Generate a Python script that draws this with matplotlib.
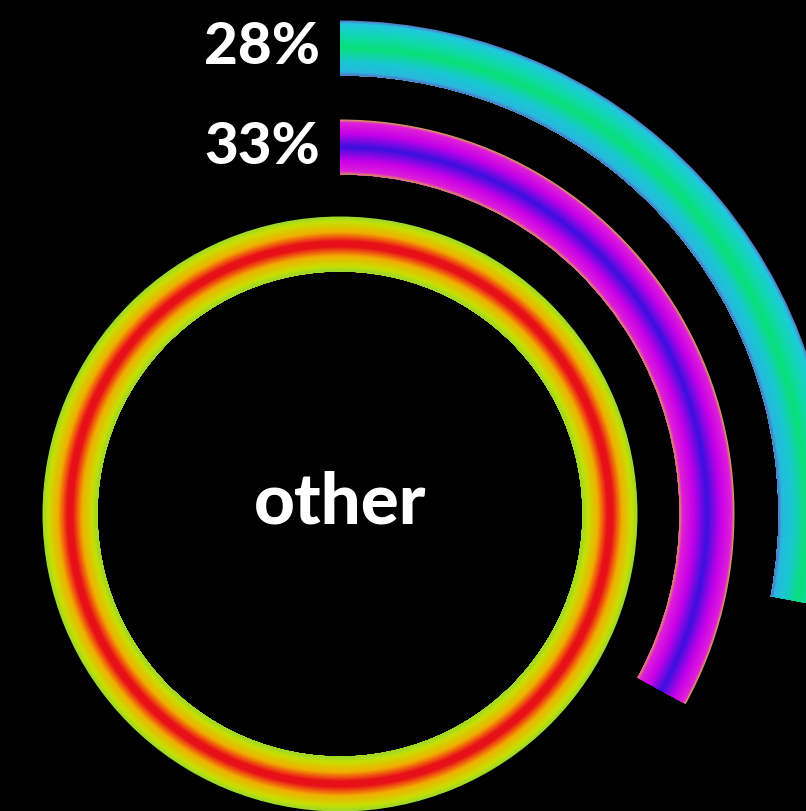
import numpy as np
import matplotlib
matplotlib.use("Agg")
import matplotlib.pyplot as plt
from matplotlib.colors import LinearSegmentedColormap

# rings from inside to outside
ring_labels = ["other", "33%", "28%"]
ring_values = [100, 33, 28]   # percent of a full turn

# colour profile across each ring's width (inner edge -> outer edge)
ring_gradients = [
    [(0, "#98d830"), (0.1, "#c8e000"), (0.28, "#f0b000"), (0.38, "#f05010"), (0.45, "#e81018"),
     (0.55, "#e81018"), (0.62, "#f05010"), (0.72, "#f0b000"), (0.9, "#c8e000"), (1, "#98d830")],
    [(0, "#d0a040"), (0.05, "#e020d8"), (0.25, "#c800e8"), (0.5, "#3a10e0"),
     (0.75, "#c800e8"), (0.95, "#e020d8"), (1, "#d8b048")],
    [(0, "#5a70c0"), (0.06, "#28b8e0"), (0.25, "#18c8d0"), (0.5, "#08e078"),
     (0.72, "#10d8b0"), (0.94, "#20c8e0"), (1, "#5a70c0")],
]

R_MAX = 520          # radial axis range, in pixels
ring_mid = [270, 367, 466]
ring_width = 55
n_bands = 60

fig = plt.figure(figsize=(8.06, 8.11), dpi=100, facecolor="black")
cx, cy = 340, 811 - 514
ax = fig.add_axes([(cx - R_MAX) / 806, (cy - R_MAX) / 811,
                   2 * R_MAX / 806, 2 * R_MAX / 811], projection="polar")
ax.set_facecolor("black")
ax.set_theta_zero_location("N")
ax.set_theta_direction(-1)
ax.set_ylim(0, R_MAX)
ax.set_axis_off()

for mid, value, stops in zip(ring_mid, ring_values, ring_gradients):
    cmap = LinearSegmentedColormap.from_list("ring", stops)
    r_in = mid - ring_width / 2
    span = 2 * np.pi * value / 100
    dr = ring_width / n_bands
    # nested bars, largest first, so band seams sit on solid colour
    for k in range(n_bands - 1, -1, -1):
        t = (k + 0.5) / n_bands
        ax.bar(0, (k + 1) * dr, width=span, bottom=r_in, align="edge",
               color=cmap(t), linewidth=0)

for mid, label in zip(ring_mid[1:], ring_labels[1:]):
    ax.annotate(label, xy=(0, mid), xytext=(-20, 0), textcoords="offset pixels",
                ha="right", va="center", color="white", fontsize=42,
                fontweight="black", family="Lato")

ax.annotate(ring_labels[0], xy=(0, 0), xytext=(0, -9), textcoords="offset pixels",
            ha="center", va="baseline", color="white", fontsize=51,
            fontweight="black", family="Lato")

fig.savefig("out.png", dpi=100, facecolor="black")
